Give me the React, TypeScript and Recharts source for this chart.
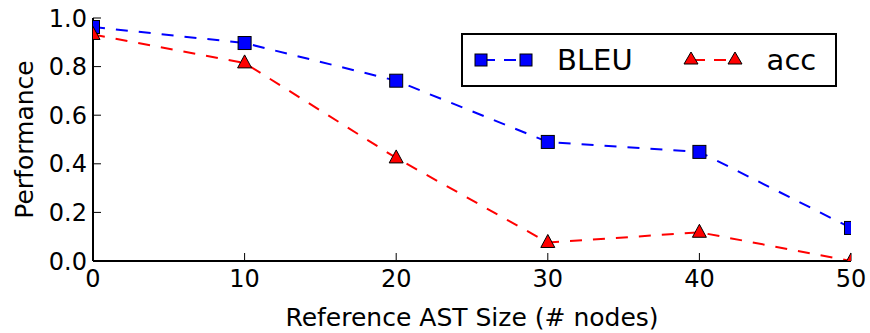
import React from 'react';
import { LineChart, Line, XAxis, YAxis, Legend } from 'recharts';

const sizes = [0, 10, 20, 30, 40, 50];
const bleu = [0.963, 0.897, 0.742, 0.49, 0.449, 0.136];
const acc = [0.932, 0.815, 0.424, 0.076, 0.118, 0.0];
const xTicks = [0, 10, 20, 30, 40, 50];
const yTicks = [0, 0.2, 0.4, 0.6, 0.8, 1.0];

const data = sizes.map((s, i) => ({ size: s, BLEU: bleu[i], acc: acc[i] }));

const FONT = 'DejaVu Sans';
const BLUE = '#0000ff';
const RED = '#ff0000';
const MS = 13;
const DASH = '12 11';
const TICK = -8;

// plot-area layout (from chart margins and axis sizes)
const W = 870;
const H = 333;
const M = { top: 18, right: 19, bottom: 0, left: 0 };
const Y_W = 93;
const X_H = 72;
const PLOT = { x: M.left + Y_W, y: M.top, w: W - M.left - Y_W - M.right, h: H - M.top - X_H - M.bottom };

// nested svg viewport clips marker to the plot area
const Clipped = ({ children }: { children: React.ReactNode }) => (
  <svg x={PLOT.x} y={PLOT.y} width={PLOT.w} height={PLOT.h} overflow="hidden">
    <g transform={`translate(${-PLOT.x} ${-PLOT.y})`}>{children}</g>
  </svg>
);

const Square = (props: any) => {
  const { cx, cy, index } = props;
  if (cx == null || cy == null) return <g key={`s${index}`} />;
  return (
    <Clipped key={`s${index}`}>
      <rect x={cx - MS / 2} y={cy - MS / 2} width={MS} height={MS} fill={BLUE} stroke="#000" strokeWidth={1} />
    </Clipped>
  );
};

const Tri = (props: any) => {
  const { cx, cy, index } = props;
  if (cx == null || cy == null) return <g key={`t${index}`} />;
  const h = MS;
  const w = MS + 1;
  const pts = `${cx},${cy - h * 0.62} ${cx - w / 2},${cy + h * 0.38} ${cx + w / 2},${cy + h * 0.38}`;
  return (
    <Clipped key={`t${index}`}>
      <polygon points={pts} fill={RED} stroke="#000" strokeWidth={1} />
    </Clipped>
  );
};

const Empty = () => <g />;

const LegendItem = ({ color, kind, label }: { color: string; kind: string; label: string }) => (
  <div style={{ display: 'flex', alignItems: 'center' }}>
    <svg width={58} height={20} style={{ overflow: 'visible' }}>
      <line x1={6} y1={10} x2={51} y2={10} stroke={color} strokeWidth={2} strokeDasharray="12 9" strokeDashoffset={-2} />
      {kind === 'sq' ? (
        <>
          <rect x={0} y={4} width={12} height={12} fill={color} stroke="#000" strokeWidth={1} />
          <rect x={45} y={4} width={12} height={12} fill={color} stroke="#000" strokeWidth={1} />
        </>
      ) : (
        <>
          <polygon points="6,2 -1,14 13,14" fill={color} stroke="#000" strokeWidth={1} />
          <polygon points="50,2 43,14 57,14" fill={color} stroke="#000" strokeWidth={1} />
        </>
      )}
    </svg>
    <span style={{ fontFamily: FONT, fontSize: 29, marginLeft: 24, color: '#000', lineHeight: 1 }}>{label}</span>
  </div>
);

const renderLegend = () => (
  <div
    style={{
      boxSizing: 'border-box',
      width: 376,
      height: 54,
      border: '2px solid #000',
      background: '#fff',
      display: 'flex',
      alignItems: 'center',
      paddingLeft: 12,
    }}
  >
    <LegendItem color={BLUE} kind="sq" label="BLEU" />
    <div style={{ width: 52 }} />
    <LegendItem color={RED} kind="tri" label="acc" />
  </div>
);

export default function App() {
  return (
    <div style={{ position: 'absolute', left: 0, top: 0, width: W, height: H, background: '#fff' }}>
      <LineChart width={W} height={H} data={data} margin={M}>
        <XAxis
          dataKey="size"
          type="number"
          domain={[0, 50]}
          ticks={xTicks}
          allowDataOverflow
          height={X_H}
          tickSize={TICK}
          tickMargin={17}
          axisLine={{ stroke: '#000', strokeWidth: 2 }}
          tickLine={{ stroke: '#000', strokeWidth: 1 }}
          tick={{ fill: '#000', fontSize: 24, fontFamily: FONT }}
          label={{
            content: (p: any) => {
              const vb = p.viewBox;
              return (
                <text x={vb.x + vb.width / 2} y={vb.y + 65} textAnchor="middle" fontFamily={FONT} fontSize={25} fill="#000">
                  Reference AST Size (# nodes)
                </text>
              );
            },
          }}
        />
        <XAxis
          xAxisId="t"
          orientation="top"
          dataKey="size"
          type="number"
          domain={[0, 50]}
          ticks={xTicks}
          height={0}
          tickSize={TICK}
          axisLine={{ stroke: '#000', strokeWidth: 2 }}
          tickLine={{ stroke: '#000', strokeWidth: 1 }}
          tick={Empty}
        />
        <YAxis
          type="number"
          domain={[0, 1]}
          ticks={yTicks}
          allowDataOverflow
          width={Y_W}
          tickSize={TICK}
          tickMargin={14}
          tickFormatter={(v: number) => v.toFixed(1)}
          axisLine={{ stroke: '#000', strokeWidth: 2 }}
          tickLine={{ stroke: '#000', strokeWidth: 1 }}
          tick={{ fill: '#000', fontSize: 24, fontFamily: FONT }}
          label={{
            content: (p: any) => {
              const vb = p.viewBox;
              const x = 33;
              const y = vb.y + vb.height / 2;
              return (
                <text x={x} y={y} transform={`rotate(-90 ${x} ${y})`} textAnchor="middle" fontFamily={FONT} fontSize={25} fill="#000">
                  Performance
                </text>
              );
            },
          }}
        />
        <YAxis
          yAxisId="r"
          orientation="right"
          type="number"
          domain={[0, 1]}
          ticks={yTicks}
          width={0}
          tickSize={TICK}
          axisLine={{ stroke: '#000', strokeWidth: 2 }}
          tickLine={{ stroke: '#000', strokeWidth: 1 }}
          tick={Empty}
        />
        <Line
          dataKey="BLEU"
          type="linear"
          stroke={BLUE}
          strokeWidth={2}
          strokeDasharray={DASH}
          dot={Square}
          activeDot={false}
          isAnimationActive={false}
        />
        <Line
          dataKey="acc"
          type="linear"
          stroke={RED}
          strokeWidth={2}
          strokeDasharray={DASH}
          dot={Tri}
          activeDot={false}
          isAnimationActive={false}
        />
        <Legend
          layout="vertical"
          align="center"
          verticalAlign="middle"
          content={renderLegend}
          wrapperStyle={{ position: 'absolute', left: 461, top: 33, width: 376, height: 54 }}
        />
      </LineChart>
    </div>
  );
}
